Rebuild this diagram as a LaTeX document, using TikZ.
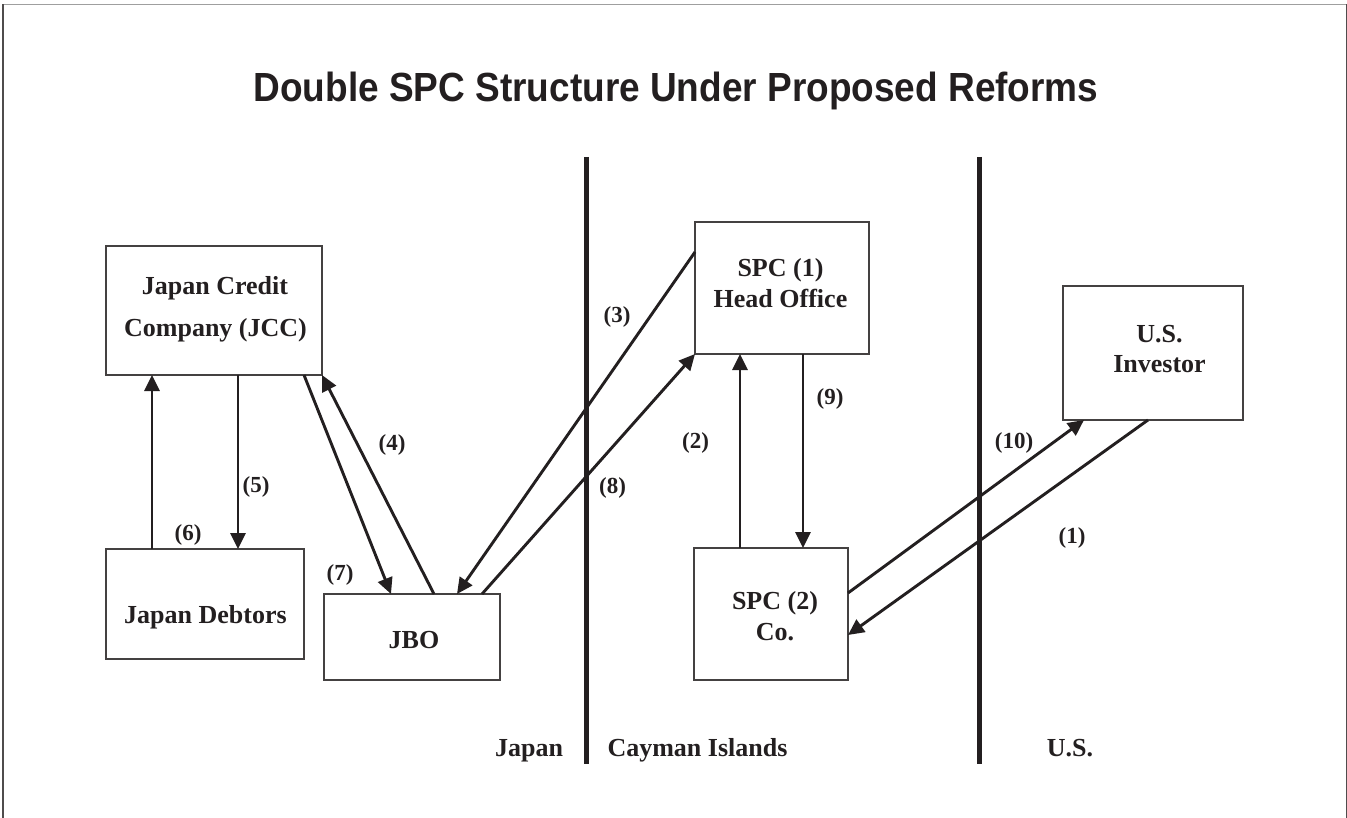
\documentclass[tikz,border=0pt]{standalone}
\usepackage{fontspec}
\setmainfont{Liberation Serif}
\newfontfamily\headfont{Liberation Sans}
\usetikzlibrary{arrows.meta}
\definecolor{ink}{HTML}{231F20}
\begin{document}
\begin{tikzpicture}[x=1pt,y=-1pt,
  box/.style={draw=ink!85, line width=1.5pt, inner sep=0pt, outer sep=0pt},
  txt/.style={anchor=base, inner sep=0pt, text=ink, font=\bfseries\fontsize{26}{31}\selectfont},
  num/.style={anchor=center, inner sep=0pt, text=ink, font=\bfseries\fontsize{23}{28}\selectfont},
  arr/.style={draw=ink, line width=2.9pt, -{Triangle[length=16pt,width=15pt]}},
  divider/.style={draw=ink, line width=5pt}]
\useasboundingbox (0,0) rectangle (1347,818);

% outer frame (open at the bottom)
\draw[gray!75, line width=1.6pt] (2.5,4.5) -- (1346,4.5);
\draw[ink!80, line width=2pt] (2.8,4.5) -- (2.8,818);
\draw[ink!80, line width=1.4pt] (1346.2,4.5) -- (1346.2,818);

% title
\node[anchor=base, inner sep=0pt, text=ink, font=\headfont\bfseries\fontsize{37}{44}\selectfont]
  (title) at (676,102) {\scalebox{1}[1.1]{Double SPC Structure Under Proposed Reforms}};

% jurisdiction borders
\draw[divider] (586,157) -- (586,764);
\draw[divider] (979,157) -- (979,764);

% entities
\node[box, minimum width=216pt, minimum height=129pt] (jcc)  at (214,310.5) {};
\node[box, minimum width=198pt, minimum height=110pt] (deb)  at (205,604) {};
\node[box, minimum width=176pt, minimum height=86pt]  (jbo)  at (412,637) {};
\node[box, minimum width=174pt, minimum height=132pt] (spc1) at (782,288) {};
\node[box, minimum width=154pt, minimum height=132pt] (spc2) at (771,614) {};
\node[box, minimum width=180pt, minimum height=134pt] (inv)  at (1153,353) {};

% entity names
\node[txt] (jcc1)  at (215,295)    {Japan Credit};
\node[txt] (jcc2)  at (215.5,337)  {Company (JCC)};
\node[txt] (deb1)  at (205.5,623)  {Japan Debtors};
\node[txt] (jbo1)  at (414,648)    {JBO};
\node[txt] (spc1a) at (780.5,277)  {SPC (1)};
\node[txt] (spc1b) at (780.5,308)  {Head Office};
\node[txt] (spc2a) at (775,609)    {SPC (2)};
\node[txt] (spc2b) at (775,640)    {Co.};
\node[txt] (inv1)  at (1159.5,342) {U.S.};
\node[txt] (inv2)  at (1159.5,373) {Investor};

% jurisdiction names
\node[txt] (rjp) at (529,756)    {Japan};
\node[txt] (rky) at (697.5,756)  {Cayman Islands};
\node[txt] (rus) at (1070,756)   {U.S.};

% flows
\draw[arr] (deb.north -| 152,0) -- (jcc.south -| 152,0);
\draw[arr] (jcc.south -| 238,0) -- (deb.north -| 238,0);
\draw[arr] (jcc.south -| 304,0) -- (jbo.north -| 391,0);
\draw[arr] (jbo.north -| 434,0) -- (jcc.south east);
\draw[arr] (spc1.west |- 0,252) -- (jbo.north -| 457,0);
\draw[arr] (jbo.north -| 482,0) -- (spc1.south west);
\draw[arr] (spc2.north -| 740,0) -- (spc1.south -| 740,0);
\draw[arr] (spc1.south -| 803,0) -- (spc2.north -| 803,0);
\draw[arr] (spc2.east |- 0,593) -- (inv.south -| 1084,0);
\draw[arr] (inv.south -| 1148,0) -- (spc2.east |- 0,635);

% flow numbers
\node[num] (n1)  at (1072,538)  {(1)};
\node[num] (n2)  at (695.5,443) {(2)};
\node[num] (n3)  at (617,317)   {(3)};
\node[num] (n4)  at (392,445)   {(4)};
\node[num] (n5)  at (256,487)   {(5)};
\node[num] (n6)  at (188,535)   {(6)};
\node[num] (n7)  at (340,575)   {(7)};
\node[num] (n8)  at (612.5,488) {(8)};
\node[num] (n9)  at (830,399)   {(9)};
\node[num] (n10) at (1014,443)  {(10)};
\end{tikzpicture}
\end{document}
